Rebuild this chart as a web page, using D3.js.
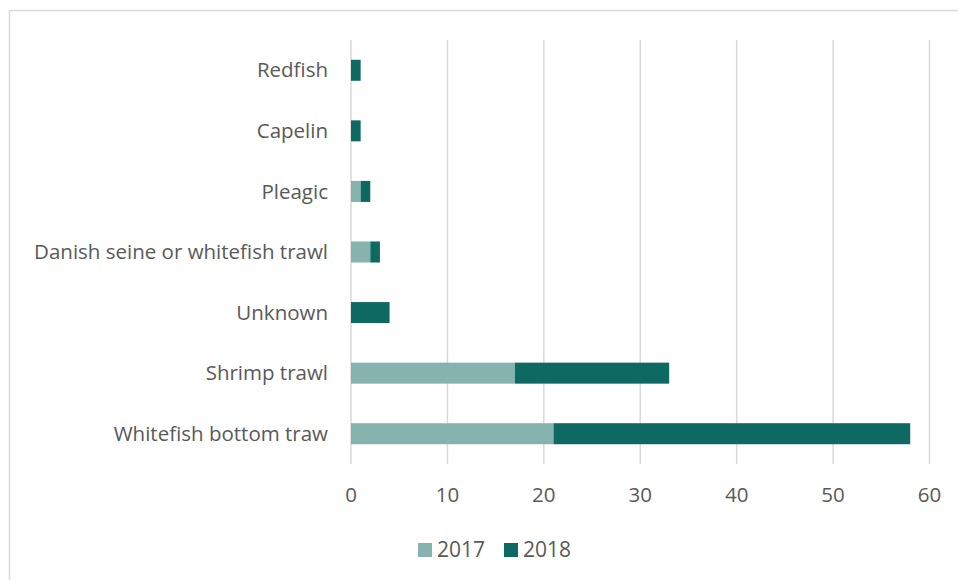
<!DOCTYPE html>
<html>
<head>
<meta charset="utf-8">
<script src="https://cdn.jsdelivr.net/npm/d3@7"></script>
<style>
  body { margin: 0; background: #fff; }
  svg text { font-family: "Open Sans", "Liberation Sans", sans-serif; fill: #595959; }
</style>
</head>
<body>
<div id="chart"></div>
<script>
// categories top to bottom
const categories = ["Redfish", "Capelin", "Pleagic", "Danish seine or whitefish trawl", "Unknown", "Shrimp trawl", "Whitefish bottom traw"];
const years = ["2017", "2018"];
const values2017 = [0, 0, 1, 2, 0, 17, 21];
const values2018 = [1, 1, 1, 1, 4, 16, 37];
const xTicks = [0, 10, 20, 30, 40, 50, 60];
const colors = { "2017": "#87b3ae", "2018": "#0e6963" };

const width = 958, height = 580;
const svg = d3.select("#chart").append("svg")
  .attr("width", width)
  .attr("height", height);

// chart border (only top and left visible)
svg.append("rect")
  .attr("x", 9.5).attr("y", 10.5)
  .attr("width", width + 10).attr("height", height + 10)
  .attr("fill", "none")
  .attr("stroke", "#d9d9d9")
  .attr("stroke-width", 1.5);

const x = d3.scaleLinear().domain([0, 60]).range([351, 929.5]);
const y = d3.scaleBand().domain(categories).range([40, 464])
  .paddingInner(0.653).paddingOuter(0.3265);

// gridlines
svg.append("g").selectAll("line")
  .data(xTicks)
  .join("line")
  .attr("x1", d => x(d)).attr("x2", d => x(d))
  .attr("y1", 40).attr("y2", 464)
  .attr("stroke", "#d9d9d9")
  .attr("stroke-width", 1.5);

// stacked bars
const rows = categories.map((c, i) => ({ cat: c, "2017": values2017[i], "2018": values2018[i] }));
const stack = d3.stack().keys(years)(rows);

svg.append("g").selectAll("g")
  .data(stack)
  .join("g")
  .attr("fill", d => colors[d.key])
  .selectAll("rect")
  .data(d => d.filter(s => s[1] > s[0]))
  .join("rect")
  .attr("x", d => x(d[0]))
  .attr("width", d => x(d[1]) - x(d[0]))
  .attr("y", d => y(d.data.cat))
  .attr("height", y.bandwidth());

// category labels
svg.append("g").selectAll("text")
  .data(categories)
  .join("text")
  .attr("x", 328)
  .attr("y", d => y(d) + y.bandwidth() / 2)
  .attr("dy", "0.35em")
  .attr("text-anchor", "end")
  .attr("font-size", 20.5)
  .text(d => d);

// x tick labels
svg.append("g").selectAll("text")
  .data(xTicks)
  .join("text")
  .attr("x", d => x(d))
  .attr("y", 495)
  .attr("dy", "0.35em")
  .attr("text-anchor", "middle")
  .attr("font-size", 20.5)
  .text(d => d);

// legend
const legend = svg.append("g").selectAll("g")
  .data(years)
  .join("g")
  .attr("transform", (d, i) => `translate(${418 + i * 86},543)`);
legend.append("rect")
  .attr("width", 14).attr("height", 14)
  .attr("fill", d => colors[d]);
legend.append("text")
  .attr("x", 19).attr("y", 7)
  .attr("dy", "0.35em")
  .attr("font-size", 21)
  .text(d => d);
</script>
</body>
</html>
